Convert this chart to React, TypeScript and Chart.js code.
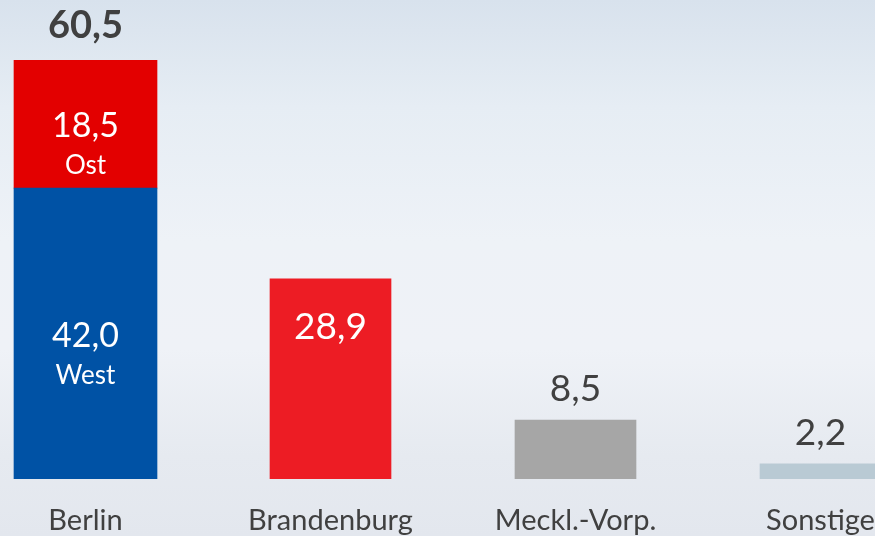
import React, { useEffect, useRef } from "react";
import { Chart, registerables } from "chart.js";

Chart.register(...registerables);

const categories = ["Berlin", "Brandenburg", "Meckl.-Vorp.", "Sonstige"];
const westValues = [42.0, null, null, null];
const ostValues = [18.5, null, null, null];
const otherValues = [null, 28.9, 8.5, 2.2];
const westLabel = "West";
const ostLabel = "Ost";

const otherColors = ["#ed1c24", "#ed1c24", "#a6a6a6", "#b9cad4"];
const TEXT_DARK = "#404040";
const FONT = "Lato, 'Open Sans', sans-serif";

const fmt = (v: number) => v.toFixed(1).replace(".", ",");

const labelPlugin = {
  id: "labels",
  afterDatasetsDraw(chart: any) {
    const ctx = chart.ctx;
    ctx.save();
    ctx.textAlign = "center";
    ctx.textBaseline = "alphabetic";
    const area = chart.chartArea;

    const westMeta = chart.getDatasetMeta(0);
    const ostMeta = chart.getDatasetMeta(1);
    const otherMeta = chart.getDatasetMeta(2);

    const drawSeg = (el: any, value: number, sub: string) => {
      const top = Math.min(el.y, el.base);
      const bottom = Math.max(el.y, el.base);
      const c = (top + bottom) / 2;
      ctx.fillStyle = "#ffffff";
      ctx.font = `34px ${FONT}`;
      ctx.fillText(fmt(value), el.x, c + 13);
      ctx.font = `26px ${FONT}`;
      ctx.fillText(sub, el.x, c + 50);
    };

    westValues.forEach((v, i) => {
      if (v == null) return;
      drawSeg(westMeta.data[i], v, westLabel);
    });
    ostValues.forEach((v, i) => {
      if (v == null) return;
      drawSeg(ostMeta.data[i], v, ostLabel);
    });

    westValues.forEach((v, i) => {
      if (v == null) return;
      const total = (v as number) + ((ostValues[i] as number) || 0);
      const el = ostMeta.data[i];
      ctx.fillStyle = TEXT_DARK;
      ctx.font = `bold 38px ${FONT}`;
      ctx.fillText(fmt(total), el.x, Math.min(el.y, el.base) - 22);
    });

    otherValues.forEach((v, i) => {
      if (v == null) return;
      const el = otherMeta.data[i];
      const top = Math.min(el.y, el.base);
      ctx.font = `37px ${FONT}`;
      if (i === 1) {
        ctx.fillStyle = "#ffffff";
        ctx.fillText(fmt(v), el.x, top + 60);
      } else {
        ctx.fillStyle = TEXT_DARK;
        ctx.fillText(fmt(v), el.x, top - 19);
      }
    });

    const xScale = chart.scales.x;
    ctx.fillStyle = TEXT_DARK;
    ctx.font = `29px ${FONT}`;
    categories.forEach((c, i) => {
      ctx.fillText(c, xScale.getPixelForValue(i), area.bottom + 51);
    });
    ctx.restore();
  },
};

export default function App() {
  const ref = useRef<HTMLCanvasElement | null>(null);
  useEffect(() => {
    if (!ref.current) return;
    const chart = new Chart(ref.current, {
      type: "bar",
      data: {
        labels: categories,
        datasets: [
          {
            label: westLabel,
            data: westValues as any,
            backgroundColor: "#0052a5",
            barThickness: 143,
            stack: "s",
          },
          {
            label: ostLabel,
            data: ostValues as any,
            backgroundColor: "#e30000",
            barThickness: 143,
            stack: "s",
          },
          {
            label: "Andere",
            data: otherValues as any,
            backgroundColor: otherColors,
            barThickness: 121,
            stack: "s",
          },
        ],
      },
      options: {
        responsive: false,
        animation: false,
        layout: { padding: { top: 60, bottom: 57, left: 0, right: 0 } },
        plugins: { legend: { display: false }, tooltip: { enabled: false } },
        scales: {
          x: { display: false, stacked: true },
          y: { display: false, stacked: true, min: 0, max: 60.5 },
        },
      },
      plugins: [labelPlugin],
    });
    return () => chart.destroy();
  }, []);

  return (
    <div
      style={{
        position: "fixed",
        left: 0,
        top: 0,
        width: 875,
        height: 536,
        overflow: "hidden",
        background:
          "linear-gradient(180deg, #d8e2ed 0%, #e6edf4 20%, #eef2f7 45%, #eff2f7 65%, #e6eaf0 85%, #e3e7ee 100%)",
      }}
    >
      <canvas
        ref={ref}
        width={980}
        height={536}
        style={{ position: "absolute", left: -37, top: 0, width: 980, height: 536 }}
      />
    </div>
  );
}
